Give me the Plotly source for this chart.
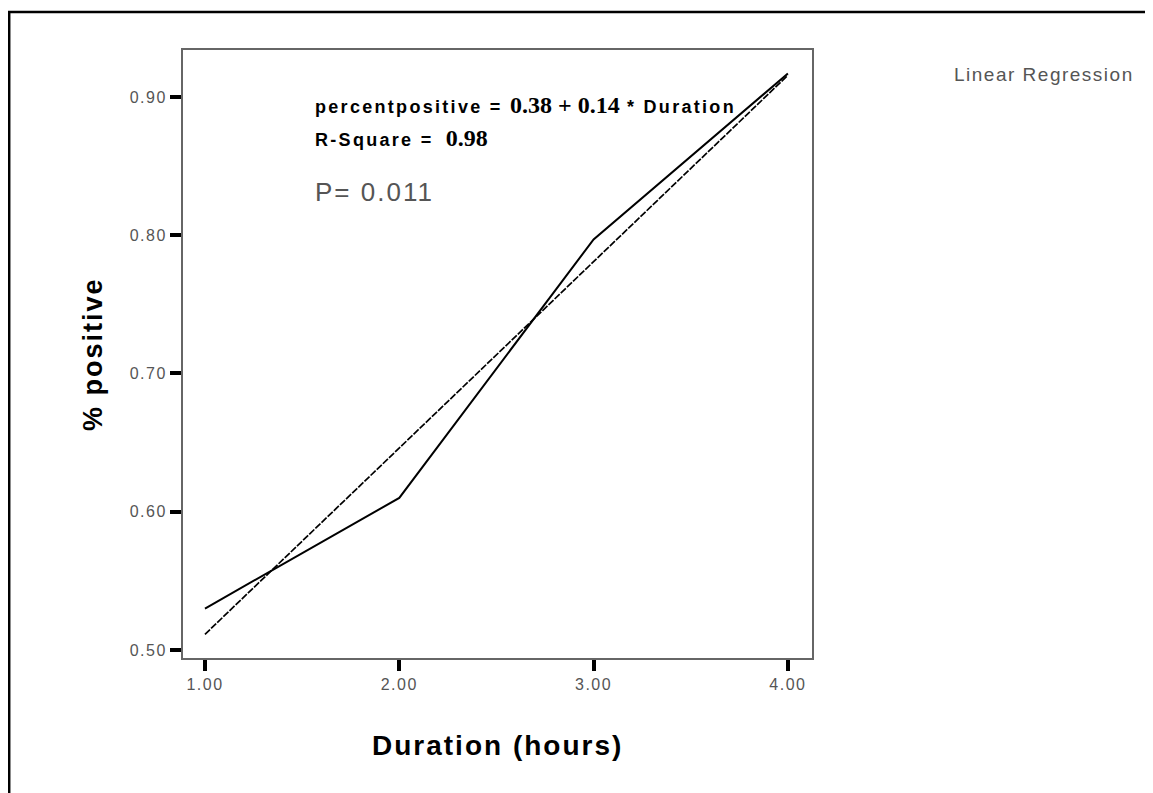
import numpy as np
import plotly.graph_objects as go

duration = [1.0, 2.0, 3.0, 4.0]
pct_positive = [0.53, 0.61, 0.797, 0.917]
x_ticks = [1.0, 2.0, 3.0, 4.0]
x_tick_labels = ["1.00", "2.00", "3.00", "4.00"]
y_ticks = [0.5, 0.6, 0.7, 0.8, 0.9]
y_tick_labels = ["0.50", "0.60", "0.70", "0.80", "0.90"]

# page body has an 8px margin, so work in page coordinates minus 8
OFF = 8
W, H = 1153 - OFF, 793 - OFF


def px(x):
    return (x - OFF) / W


def py(y):
    return 1 - (y - OFF) / H


def spaced(t, ls):
    return '<span style="letter-spacing:%spx">%s</span>' % (ls, t)


slope, intercept = np.polyfit(duration, pct_positive, 1)
fit_x = np.array([duration[0], duration[-1]])
fit_y = intercept + slope * fit_x

fig = go.Figure()
fig.add_trace(go.Scatter(x=duration, y=pct_positive, mode="lines",
                         line=dict(color="black", width=2), hoverinfo="skip"))
fig.add_trace(go.Scatter(x=fit_x, y=fit_y, mode="lines",
                         line=dict(color="black", width=1.7, dash="7px,1.5px"), hoverinfo="skip"))

tickfont = dict(family="Liberation Sans, Arial", size=16, color="#555555")
fig.update_layout(
    width=W, height=H, margin=dict(l=0, r=0, t=0, b=0),
    paper_bgcolor="white", plot_bgcolor="white", showlegend=False,
    xaxis=dict(domain=[px(183), px(812)], range=[0.887, 4.124],
               tickvals=x_ticks, ticktext=[spaced(t, 1.5) for t in x_tick_labels], ticks="outside",
               ticklen=11, tickwidth=4, tickcolor="black", tickfont=tickfont,
               showline=True, linecolor="#666666", linewidth=2, mirror=True,
               showgrid=False, zeroline=False),
    yaxis=dict(domain=[py(658), py(50)], range=[0.4942, 0.934],
               tickvals=y_ticks, ticktext=[spaced(t, 1.5) for t in y_tick_labels], ticks="outside",
               ticklen=11, tickwidth=4, tickcolor="black", tickfont=tickfont,
               showline=True, linecolor="#666666", linewidth=2, mirror=True,
               showgrid=False, zeroline=False),
)

serif = "font-family:Liberation Serif, Times New Roman, serif;font-size:24px;font-weight:bold"
ann = [
    dict(x=px(313), y=py(105),
         text="<b>" + spaced("percentpositive = ", 2.3) + "</b><span style=\"" + serif + "\">0.38 + 0.14</span><b>"
              + spaced(" * Duration", 2.3) + "</b>",
         font=dict(family="Liberation Sans, Arial", size=18, color="black")),
    dict(x=px(313), y=py(138),
         text="<b>" + spaced("R-Square = ", 2.3) + "</b> <span style=\"" + serif + "\">0.98</span>",
         font=dict(family="Liberation Sans, Arial", size=18, color="black")),
    dict(x=px(313), y=py(192), text=spaced("P= 0.011", 2),
         font=dict(family="Liberation Sans, Arial", size=26, color="#555555")),
    dict(x=px(952), y=py(75), text=spaced("Linear Regression", 1.5),
         font=dict(family="Liberation Sans, Arial", size=19, color="#555555")),
    dict(x=px(93), y=py(354), text="<b>" + spaced("% positive", 2) + "</b>", textangle=-90, xanchor="center",
         font=dict(family="Liberation Sans, Arial", size=27, color="black")),
    dict(x=px(497), y=py(745), text="<b>" + spaced("Duration (hours)", 2) + "</b>", xanchor="center",
         font=dict(family="Liberation Sans, Arial", size=28, color="black")),
]
for a in ann:
    a.setdefault("xanchor", "left")
    fig.add_annotation(xref="paper", yref="paper", yanchor="middle", showarrow=False, **a)

fig.add_shape(type="rect", xref="paper", yref="paper", x0=px(9.2), x1=1.05, y0=-0.05, y1=py(12),
              line=dict(color="black", width=2.5), layer="above")

fig.write_html("out.html")
